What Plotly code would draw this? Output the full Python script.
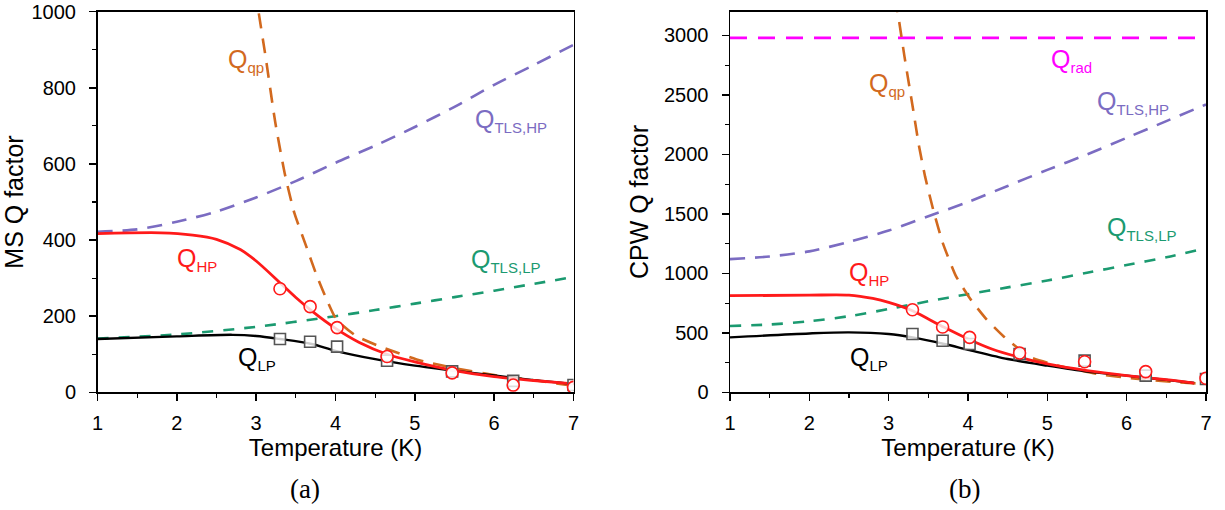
import plotly.graph_objects as go

# ---------------- Panel (a): MS ----------------
ms_hp_x = [1.0, 1.8, 2.2, 2.5, 2.8, 3.0, 3.3, 3.5, 3.7, 4.0, 4.3, 4.65, 5.0, 5.5, 6.0, 6.5, 7.0]
ms_hp_y = [417, 419, 413, 402, 375, 345, 288, 249, 214, 168, 131, 100, 80, 57, 41, 31, 22]

ms_lp_x = [1.0, 2.0, 2.7, 3.0, 3.3, 3.7, 4.0, 4.5, 5.0, 5.5, 6.0, 6.5, 7.0]
ms_lp_y = [140, 147, 151, 148, 140, 127, 109, 87, 70, 57, 44, 32, 22]

ms_tlshp_x = [1.0, 1.5, 2.0, 2.5, 3.0, 3.5, 4.0, 4.5, 5.0, 5.5, 6.0, 6.5, 7.0]
ms_tlshp_y = [422, 428, 448, 475, 512, 555, 603, 648, 697, 750, 808, 860, 913]

ms_tlslp_x = [1.0, 2.0, 3.0, 4.0, 4.5, 5.0, 5.5, 6.0, 6.5, 7.0]
ms_tlslp_y = [141, 152, 172, 200, 216, 233, 250, 267, 285, 303]

ms_qp_x = [2.99, 3.03, 3.12, 3.24, 3.36, 3.48, 3.63, 3.75, 3.87, 4.01, 4.26, 4.59, 5.08, 5.56, 6.04, 6.53, 7.0]
ms_qp_y = [1060, 1000, 880, 710, 575, 472, 384, 314, 253, 192, 148, 118, 83, 61, 44, 31, 17]

ms_meas_x = [3.3, 3.68, 4.02, 4.65, 5.47, 6.24, 7.0]
ms_meas_hp = [272, 225, 170, 94, 51, 19, 13]
ms_meas_lp = [140, 133, 120, 83, 55, 30, 19]

# ---------------- Panel (b): CPW ----------------
cpw_hp_x = [1.0, 2.0, 2.5, 2.8, 3.0, 3.3, 3.5, 3.7, 4.0, 4.3, 4.65, 5.0, 5.5, 6.0, 6.5, 6.85]
cpw_hp_y = [812, 817, 817, 789, 756, 686, 616, 546, 448, 364, 294, 238, 182, 140, 106, 78]

cpw_lp_x = [1.0, 2.0, 2.5, 3.0, 3.3, 3.7, 4.0, 4.5, 5.0, 5.5, 6.0, 6.5, 6.85]
cpw_lp_y = [462, 495, 504, 490, 462, 406, 358, 280, 224, 174, 140, 104, 78]

cpw_tlshp_x = [1.0, 1.5, 2.0, 2.5, 3.0, 3.5, 4.0, 4.5, 5.0, 5.5, 6.0, 6.5, 7.0]
cpw_tlshp_y = [1120, 1142, 1185, 1265, 1360, 1480, 1600, 1735, 1870, 2000, 2140, 2280, 2420]

cpw_tlslp_x = [1.0, 1.5, 2.0, 2.5, 3.0, 3.5, 4.0, 4.5, 5.0, 5.5, 6.0, 6.5, 6.95]
cpw_tlslp_y = [558, 570, 597, 640, 700, 765, 825, 882, 940, 1005, 1070, 1135, 1205]

cpw_qp_x = [3.08, 3.12, 3.20, 3.31, 3.38, 3.46, 3.56, 3.68, 3.85, 4.03, 4.23, 4.45, 4.79, 5.14, 5.64, 6.15, 6.65, 7.0]
cpw_qp_y = [3320, 3170, 2820, 2371, 2080, 1811, 1539, 1260, 975, 784, 616, 470, 294, 224, 154, 112, 84, 70]

cpw_rad_x = [1.0, 6.92]
cpw_rad_y = [2980, 2980]

cpw_meas_x = [3.3, 3.68, 4.02, 4.65, 5.47, 6.24, 7.0]
cpw_meas_hp = [694, 549, 462, 330, 257, 174, 118]
cpw_meas_lp = [490, 434, 406, 322, 266, 140, 112]

# ---------------- Styles ----------------
RED = "#ff1a1a"
BLACK = "#000000"
PURPLE = "#7b6cc2"
GREEN = "#1b9a70"
ORANGE = "#d2691e"
MAGENTA = "#ff00ff"
GREY = "#555555"
FONT = "Liberation Sans, Arial, sans-serif"

W, H = 1225, 510


def fx(px):
    return px / W


def fy(py):
    return 1 - py / H


fig = go.Figure()


def line(x, y, color, xa, ya, dash=None, width=2.6, smoothing=0.8):
    fig.add_trace(go.Scatter(
        x=x, y=y, mode="lines", xaxis=xa, yaxis=ya,
        line=dict(color=color, width=width, dash=dash, shape="spline", smoothing=smoothing),
        showlegend=False, hoverinfo="skip"))


def markers(x, y, symbol, color, xa, ya, size):
    fig.add_trace(go.Scatter(
        x=x, y=y, mode="markers", xaxis=xa, yaxis=ya,
        marker=dict(symbol=symbol, size=size, color="rgba(255,255,255,0.8)",
                    line=dict(color=color, width=1.6)),
        showlegend=False, hoverinfo="skip"))


DASH = "15px,10px"
DASH_M = "17px,11px"
DASH_G = "11px,10px"

# Panel (a)
line(ms_tlshp_x, ms_tlshp_y, PURPLE, "x", "y", DASH)
line(ms_tlslp_x, ms_tlslp_y, GREEN, "x", "y", DASH_G)
line(ms_qp_x, ms_qp_y, ORANGE, "x", "y", DASH, smoothing=0.5)
line(ms_lp_x, ms_lp_y, BLACK, "x", "y", width=2.4)
line(ms_hp_x, ms_hp_y, RED, "x", "y", width=2.8)
markers(ms_meas_x, ms_meas_lp, "square", GREY, "x", "y", 11)
markers(ms_meas_x, ms_meas_hp, "circle", RED, "x", "y", 12)

# Panel (b)
line(cpw_rad_x, cpw_rad_y, MAGENTA, "x2", "y2", DASH_M)
line(cpw_tlshp_x, cpw_tlshp_y, PURPLE, "x2", "y2", DASH)
line(cpw_tlslp_x, cpw_tlslp_y, GREEN, "x2", "y2", DASH_G)
line(cpw_qp_x, cpw_qp_y, ORANGE, "x2", "y2", DASH, smoothing=0.5)
line(cpw_lp_x, cpw_lp_y, BLACK, "x2", "y2", width=2.4)
line(cpw_hp_x, cpw_hp_y, RED, "x2", "y2", width=2.8)
markers(cpw_meas_x, cpw_meas_lp, "square", GREY, "x2", "y2", 11)
markers(cpw_meas_x, cpw_meas_hp, "circle", RED, "x2", "y2", 12)

# ---------------- Axes ----------------
def xaxis(domain, anchor):
    return dict(domain=domain, anchor=anchor, range=[1, 7], dtick=1, tick0=1,
                automargin=False, ticklabeloverflow="allow",
                showline=True, linecolor="black", linewidth=1.5, mirror=True,
                ticks="outside", ticklen=7, tickwidth=1.5, tickcolor="black",
                minor=dict(ticks="outside", ticklen=4, dtick=0.5, tickcolor="black", tickwidth=1.2),
                showgrid=False, zeroline=False, ticklabelstandoff=5,
                tickfont=dict(family=FONT, size=20, color="black"),
                title=dict(text="Temperature (K)", font=dict(family=FONT, size=24, color="black"),
                           standoff=6))


def yaxis(domain, anchor, rng, dtick, minor, title):
    return dict(domain=domain, anchor=anchor, range=rng, dtick=dtick,
                automargin=False, ticklabeloverflow="allow",
                showline=True, linecolor="black", linewidth=1.5, mirror=True,
                ticks="outside", ticklen=7, tickwidth=1.5, tickcolor="black",
                minor=dict(ticks="outside", ticklen=4, dtick=minor, tickcolor="black", tickwidth=1.2),
                showgrid=False, zeroline=False, ticklabelstandoff=9,
                tickfont=dict(family=FONT, size=20, color="black"),
                title=dict(text=title, font=dict(family=FONT, size=25, color="black"), standoff=8))


YDOM = [fy(392.3), fy(11.7)]

fig.update_layout(
    width=W, height=H,
    margin=dict(l=0, r=0, t=0, b=0, pad=0),
    paper_bgcolor="white", plot_bgcolor="white",
    xaxis=xaxis([fx(97.5), fx(573.5)], "y"),
    yaxis=yaxis(YDOM, "x", [0, 1000], 200, 100, "MS Q factor"),
    xaxis2=xaxis([fx(730), fx(1206)], "y2"),
    yaxis2=yaxis(YDOM, "x2", [0, 3200], 500, 250, "CPW Q factor"),
)

# ---------------- Labels ----------------
def qlabel(x, y, sub, color, xref, yref):
    fig.add_annotation(
        x=x, y=y, xref=xref, yref=yref, xanchor="left", yanchor="middle",
        text="Q<sub><span style='font-size:15px'>" + sub + "</span></sub>", showarrow=False,
        font=dict(family=FONT, size=25, color=color))


qlabel(2.62, 873, "qp", ORANGE, "x", "y")
qlabel(5.73, 715, "TLS,HP", PURPLE, "x", "y")
qlabel(1.98, 350, "HP", RED, "x", "y")
qlabel(5.68, 345, "TLS,LP", GREEN, "x", "y")
qlabel(2.75, 88, "LP", BLACK, "x", "y")

qlabel(5.02, 2790, "rad", MAGENTA, "x2", "y2")
qlabel(2.73, 2590, "qp", ORANGE, "x2", "y2")
qlabel(5.60, 2440, "TLS,HP", PURPLE, "x2", "y2")
qlabel(5.73, 1375, "TLS,LP", GREEN, "x2", "y2")
qlabel(2.48, 1000, "HP", RED, "x2", "y2")
qlabel(2.49, 285, "LP", BLACK, "x2", "y2")

for txt, px in (("(a)", 305), ("(b)", 964)):
    fig.add_annotation(x=fx(px), y=fy(489), xref="paper", yref="paper",
                       xanchor="center", yanchor="middle", text=txt, showarrow=False,
                       font=dict(family="Liberation Serif, Times New Roman, serif", size=27, color="black"))

# remove the page's default 8px body margin so the figure sits at the window's top-left
fig.write_html(
    "out.html",
    config={"displayModeBar": False, "staticPlot": True},
    post_script="document.body.style.margin='0';document.documentElement.style.overflow='hidden';",
)
